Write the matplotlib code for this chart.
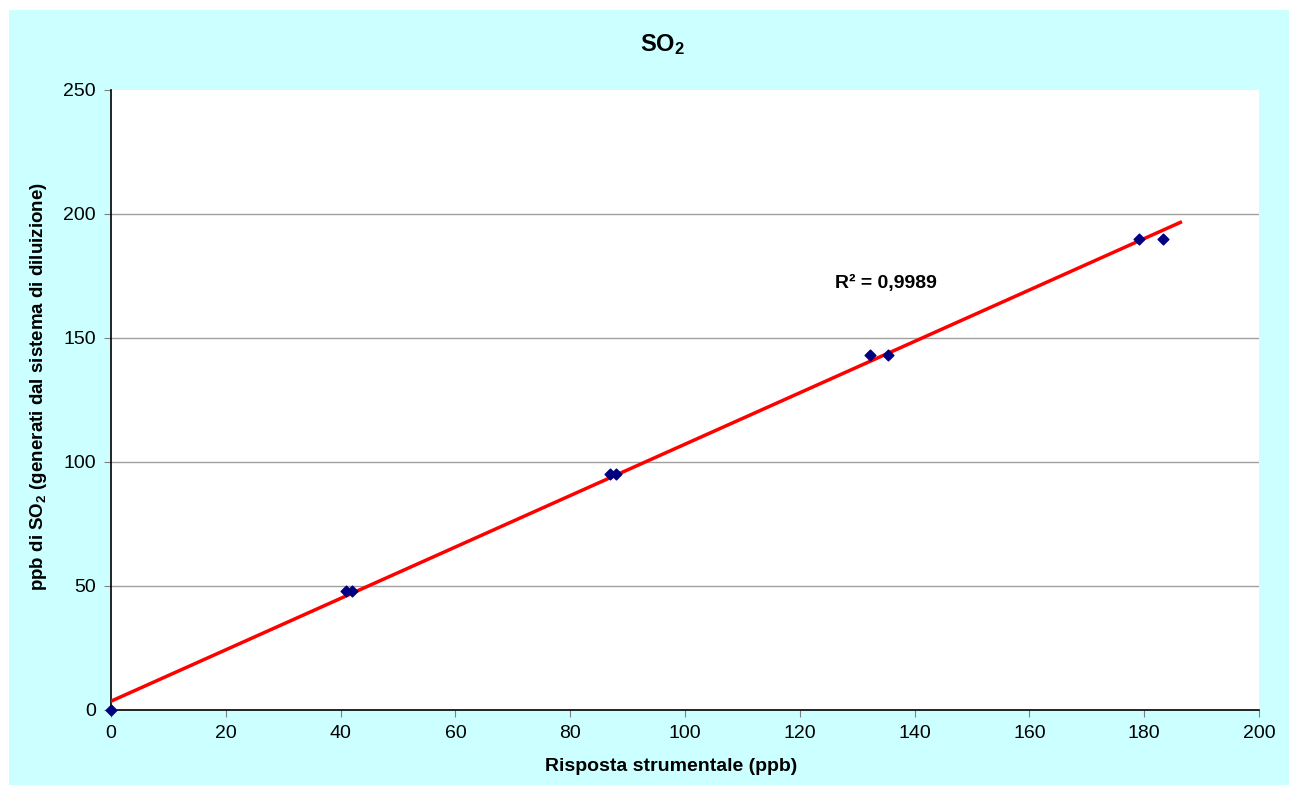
"""
SO2 calibration: instrument response vs generated ppb, with linear trendline.
"""

import numpy as np
import matplotlib.pyplot as plt
from matplotlib.patches import Rectangle

plt.rcParams['font.family'] = ['Liberation Sans', 'DejaVu Sans']
plt.rcParams['mathtext.fontset'] = 'custom'
plt.rcParams['mathtext.rm'] = 'Liberation Sans'
plt.rcParams['mathtext.bf'] = 'Liberation Sans:bold'
plt.rcParams['mathtext.default'] = 'bf'

# Data
risposta = [0, 41, 42, 87, 88, 132.2, 135.3, 179.1, 183.2]
ppb_so2 = [0, 48, 48, 95, 95, 143, 143, 190, 190]
x_ticks = [0, 20, 40, 60, 80, 100, 120, 140, 160, 180, 200]
y_ticks = [0, 50, 100, 150, 200, 250]
trend_x_end = 186.3
r2_label = "R² = 0,9989"


def main():
    fig = plt.figure(figsize=(12.89, 7.85), dpi=100)
    fig.patch.set_facecolor("white")
    # cyan chart area, offset from the top-left corner
    fig.patches.append(Rectangle((9 / 1289, 0), 1 - 9 / 1289, 1 - 10 / 785,
                                 transform=fig.transFigure, facecolor="#CCFFFF",
                                 edgecolor="none", zorder=-10))

    ax = fig.add_axes([111 / 1289, 1 - 710 / 785, 1148 / 1289, 620 / 785])
    ax.set_zorder(5)
    ax.set_facecolor("white")

    # gridlines (none on the top edge)
    for yv in y_ticks[1:-1]:
        ax.axhline(yv, color="#A0A0A0", lw=1, zorder=1)

    # Trendline (least squares on the points)
    slope, intercept = np.polyfit(risposta, ppb_so2, 1)
    tx = np.array([0, trend_x_end])
    ax.plot(tx, slope * tx + intercept, color="#FF0000", lw=2.5, zorder=3)

    ax.scatter(risposta, ppb_so2, marker="D", s=30, color="#000080", zorder=4,
               clip_on=False)

    ax.set_xlim(0, 200)
    ax.set_ylim(0, 250)
    ax.set_xticks(x_ticks)
    ax.set_yticks(y_ticks)

    for side in ("top", "right"):
        ax.spines[side].set_visible(False)
    for side in ("left", "bottom"):
        ax.spines[side].set_color("black")
        ax.spines[side].set_linewidth(1.2)

    ax.tick_params(axis="both", direction="out", length=5, color="#808080",
                   labelsize=14, pad=6)

    ax.set_xlabel("Risposta strumentale (ppb)", fontsize=14, fontweight="bold")
    ax.xaxis.set_label_coords((671 - 111) / 1148, (710 - 758) / 620)
    ax.set_ylabel("ppb di SO$_2$ (generati dal sistema di diluizione)",
                  fontsize=13.5, fontweight="bold")
    ax.yaxis.set_label_coords((49 - 111) / 1148, (710 - 386) / 620)
    fig.text(662 / 1289, 1 - 45 / 785, "SO$_2$", ha="center", va="center",
             fontsize=17, fontweight="bold")

    ax.text(135, 172, r2_label, ha="center", va="center", fontsize=14,
            fontweight="bold")

    fig.savefig("out.png", dpi=100, facecolor=fig.get_facecolor())


if __name__ == "__main__":
    main()
